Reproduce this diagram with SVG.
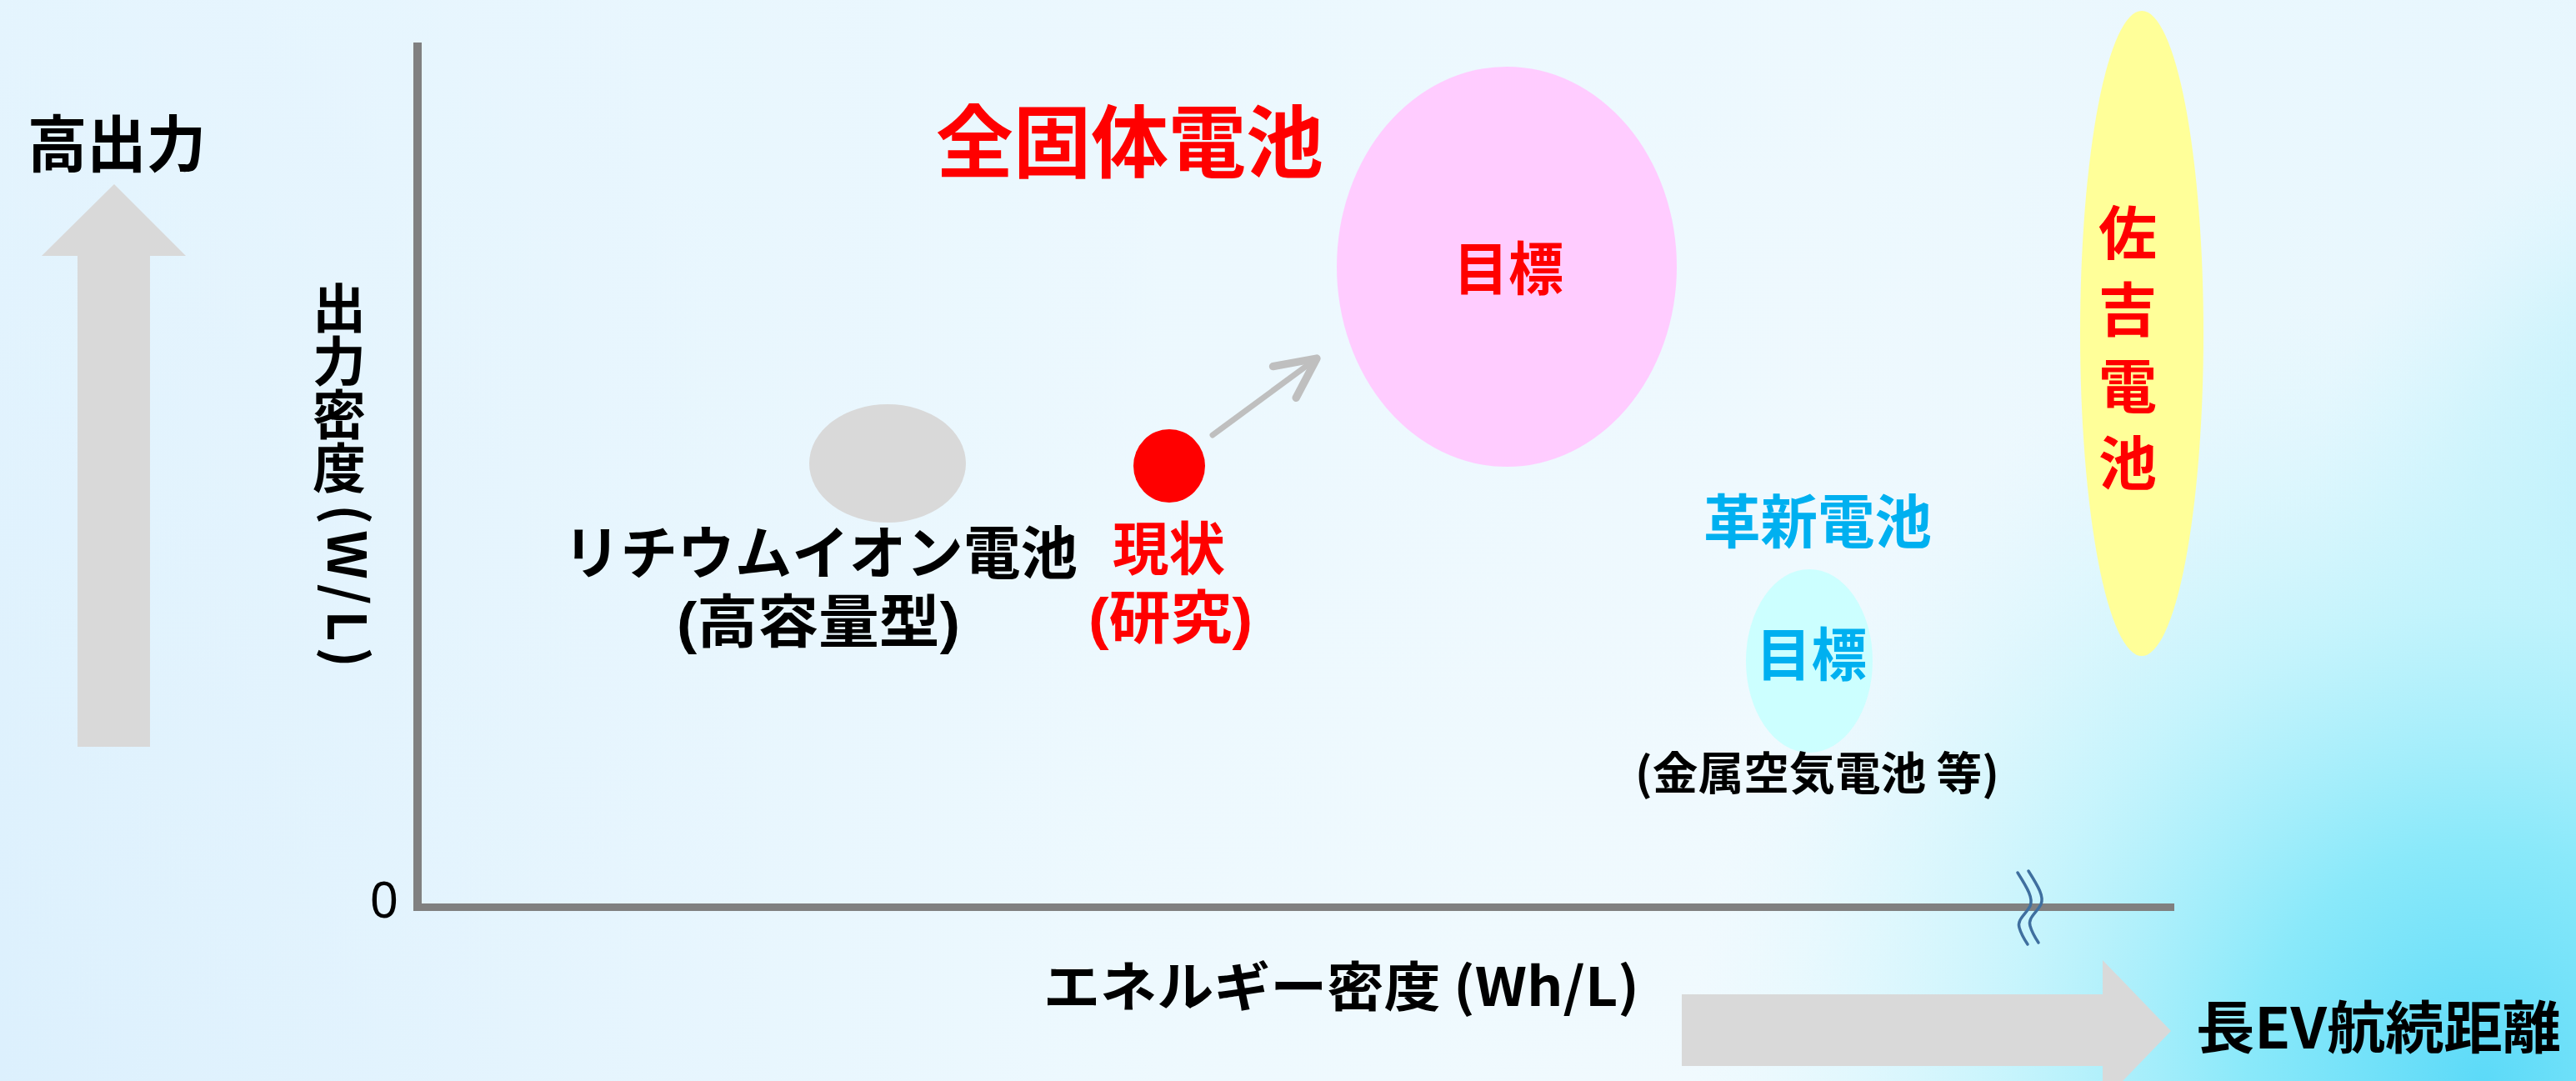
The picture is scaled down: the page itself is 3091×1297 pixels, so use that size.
<svg xmlns="http://www.w3.org/2000/svg" width="3091" height="1297" viewBox="0 0 3091 1297">
<style>
text{font-family:"Noto Sans CJK JP","Noto Sans",sans-serif;font-weight:700}
.tight{font-family:"Liberation Sans","Noto Sans CJK JP",sans-serif}
.blk{fill:#000}
.red{fill:#ff0000}
.cyan{fill:#00b0f0}
.big{fill:#d9d9d9}
.mid{text-anchor:middle}
.vert{writing-mode:vertical-rl}
</style>
<defs>
<linearGradient id="bgL" x1="0" y1="0" x2="3091" y2="0" gradientUnits="userSpaceOnUse">
<stop offset="0" stop-color="#dcf0fd"/>
<stop offset="0.45" stop-color="#eef9fe"/>
<stop offset="0.7" stop-color="#f1fafe"/>
<stop offset="1" stop-color="#e4f6fd"/>
</linearGradient>
<linearGradient id="bgV" x1="0" y1="0" x2="0" y2="1297" gradientUnits="userSpaceOnUse">
<stop offset="0" stop-color="#eaf7fe" stop-opacity="0.6"/>
<stop offset="1" stop-color="#eaf7fe" stop-opacity="0"/>
</linearGradient>
<radialGradient id="bgR" cx="2980" cy="1297" r="950" gradientUnits="userSpaceOnUse">
<stop offset="0" stop-color="#5cdaf8"/>
<stop offset="0.3" stop-color="#8ae9fa"/>
<stop offset="0.6" stop-color="#bdf3fc" stop-opacity="0.8"/>
<stop offset="1" stop-color="#d9f6fd" stop-opacity="0"/>
</radialGradient>
<radialGradient id="bgR2" cx="3250" cy="620" r="480" gradientUnits="userSpaceOnUse">
<stop offset="0" stop-color="#a8ecfb"/>
<stop offset="0.6" stop-color="#c8f3fc" stop-opacity="0.7"/>
<stop offset="1" stop-color="#d9f6fd" stop-opacity="0"/>
</radialGradient>
<marker id="open" markerUnits="userSpaceOnUse" markerWidth="80" markerHeight="80" viewBox="-45 -30 60 60" refX="0" refY="0" orient="auto" overflow="visible">
<path d="M-36,-17.5 L0,0 L-36,17.5" fill="none" stroke="#bfbfbf" stroke-width="7" stroke-linecap="round" stroke-linejoin="round"/>
</marker>
</defs>
<g id="background">
<rect x="0" y="0" width="3091" height="1297" fill="url(#bgL)"/>
<rect x="0" y="0" width="3091" height="1297" fill="url(#bgV)"/>
<rect x="0" y="0" width="3091" height="1297" fill="url(#bgR2)"/>
<rect x="0" y="0" width="3091" height="1297" fill="url(#bgR)"/>
</g>
<g id="axes">
<rect x="496" y="51" width="10" height="1042" fill="#808080"/>
<rect x="496" y="1084" width="2113" height="9" fill="#808080"/>
<text x="478" y="1101" font-size="60" style="font-family:'Noto Sans',sans-serif;font-weight:400;text-anchor:end">0</text>
<g id="break" fill="none" stroke="#3f6f9f" stroke-width="3.5" stroke-linecap="round">
<path d="M2421,1047 C2433,1066 2440,1078 2436,1087 C2431,1097 2420,1103 2423,1113 C2425,1120 2429,1127 2433,1133"/>
<path d="M2434,1045 C2446,1064 2453,1076 2449,1085 C2444,1095 2433,1101 2436,1111 C2438,1118 2442,1125 2446,1131"/>
</g>
</g>
<g id="y-label">
<text class="blk vert" x="407" y="337" font-size="64">出力密度<tspan dx="14" dy="12" letter-spacing="7">(W/L)</tspan></text>
</g>
<g id="x-label">
<text class="blk" x="1252" y="1207" font-size="64" textLength="715" lengthAdjust="spacingAndGlyphs">エネルギー密度 (Wh/L)</text>
</g>
<g id="high-output">
<polygon class="big" points="137,221 223,307 180,307 180,896 93,896 93,307 50,307"/>
<text class="blk" x="33" y="200" font-size="74" textLength="214" lengthAdjust="spacingAndGlyphs">高出力</text>
</g>
<g id="long-range">
<polygon class="big" points="2018,1193 2523,1193 2523,1152 2605,1237 2523,1322 2523,1279 2018,1279"/>
<text class="blk" x="2635" y="1258" font-size="68" textLength="438" lengthAdjust="spacingAndGlyphs">長EV航続距離</text>
</g>
<g id="lithium-ion">
<ellipse cx="1065" cy="556" rx="94" ry="71" fill="#d9d9d9"/>
<text class="blk tight" x="676" y="689" font-size="69" textLength="617" lengthAdjust="spacingAndGlyphs">リチウムイオン電池</text>
<text class="blk tight" x="812" y="771" font-size="69" textLength="340" lengthAdjust="spacingAndGlyphs">(高容量型)</text>
</g>
<g id="current">
<ellipse cx="1403" cy="559" rx="43" ry="44" fill="#ff0000"/>
<text class="red tight" x="1335" y="684" font-size="69" textLength="135" lengthAdjust="spacingAndGlyphs">現状</text>
<text class="red tight" x="1306" y="766" font-size="69" textLength="197" lengthAdjust="spacingAndGlyphs">(研究)</text>
</g>
<g id="all-solid">
<text class="red" x="1123" y="206" font-size="95" textLength="465" lengthAdjust="spacingAndGlyphs">全固体電池</text>
<ellipse cx="1808" cy="320" rx="204" ry="240" fill="#ffccff"/>
<text class="red" x="1744" y="348" font-size="69" textLength="132" lengthAdjust="spacingAndGlyphs">目標</text>
</g>
<g id="innovative">
<text class="cyan" x="2044" y="652" font-size="70" textLength="274" lengthAdjust="spacingAndGlyphs">革新電池</text>
<ellipse cx="2171" cy="793" rx="76" ry="110" fill="#ccffff"/>
<text class="cyan" x="2107" y="811" font-size="69" textLength="133" lengthAdjust="spacingAndGlyphs">目標</text>
<text class="blk" x="1962" y="948" font-size="54" textLength="437" lengthAdjust="spacingAndGlyphs">(金属空気電池 等)</text>
</g>
<g id="sakichi">
<ellipse cx="2570" cy="400" rx="74" ry="387" fill="#ffff99"/>
<text class="red vert" x="2553" y="244" font-size="70" letter-spacing="22">佐吉電池</text>
</g>
<g id="connectors">
<line x1="1455" y1="522" x2="1580" y2="430" stroke="#bfbfbf" stroke-width="7" stroke-linecap="round" marker-end="url(#open)"/>
</g>
</svg>
